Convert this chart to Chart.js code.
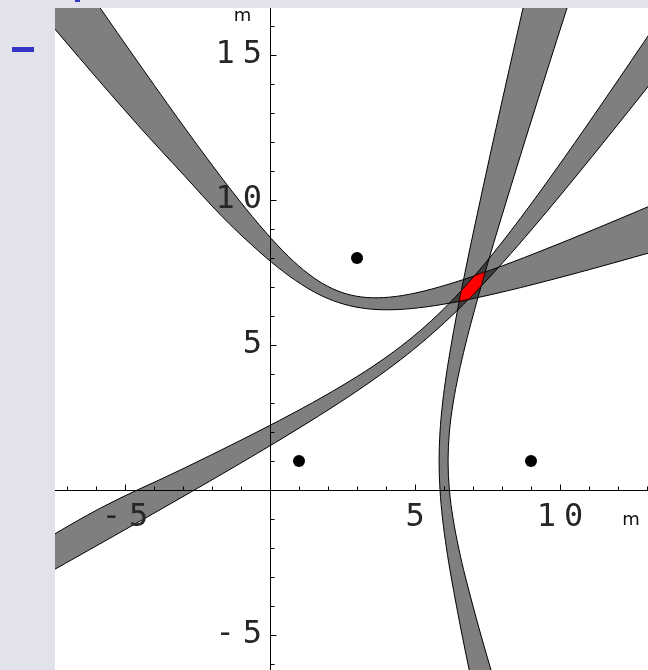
<!DOCTYPE html>
<html>
<head>
<meta charset="utf-8">
<script src="https://cdn.jsdelivr.net/npm/chart.js@4.4.1/dist/chart.umd.min.js"></script>
<style>
  html, body { margin: 0; padding: 0; background: #e2e3ea; overflow: hidden; }
  #wrap { position: relative; width: 648px; height: 670px; }
  #wrap canvas { position: absolute; left: 0; top: 0; }
  .mark { position: absolute; background: #3434c4; }
</style>
</head>
<body>
<div id="wrap">
  <div class="mark" style="left:12px;top:47px;width:22px;height:5px"></div>
  <div class="mark" style="left:75px;top:0;width:5px;height:2px"></div>
  <canvas id="c" width="648" height="670"></canvas>
</div>
<script>
// Visible window of the plane (metres)
const xRange = [-7.414, 13.034];
const yRange = [-6.207, 16.621];
const majorStep = 5;

// Receiver positions
const sensors = [[1, 1], [3, 8], [9, 1]];

// Band between receivers (1,1) and (3,8): outer and inner boundary
const abOuter = [[-12.404, 21.8], [-9.146, 17.95], [-6.588, 14.92], [-4.569, 12.60], [-2.964, 10.85],
  [-1.670, 9.447], [-0.606, 8.430], [0.294, 7.660], [1.086, 7.089], [1.821, 6.680], [2.545, 6.409],
  [3.303, 6.257], [4.144, 6.215], [5.118, 6.282], [6.289, 6.460], [7.729, 6.762], [9.529, 7.205],
  [11.802, 7.819], [14.691, 8.641], [18.377, 9.723]];
const abInner = [[-10.214, 22.976], [-7.443, 18.921], [-5.266, 15.771], [-3.545, 13.329], [-2.173, 11.441],
  [-1.063, 9.990], [-0.145, 8.884], [0.638, 8.053], [1.335, 7.446], [1.991, 7.023], [2.646, 6.760],
  [3.341, 6.638], [4.121, 6.650], [5.034, 6.797], [6.137, 7.089], [7.501, 7.543], [9.210, 8.189],
  [11.372, 9.067], [14.123, 10.231], [17.636, 11.755]];

// Band between receivers (1,1) and (9,1): left and right boundary
const acLeft = [[7.469, -9], [7.037, -7], [6.623, -5], [6.247, -3], [6.084, -2], [5.951, -1], [5.862, 0],
  [5.830, 1], [5.862, 2], [5.951, 3], [6.084, 4], [6.247, 5], [6.428, 6], [6.623, 7], [6.827, 8],
  [7.037, 9], [7.469, 11], [7.911, 13], [8.359, 15], [8.811, 17], [9.266, 19]];
const acRight = [[8.469, -9], [7.858, -7], [7.272, -5], [6.737, -3], [6.505, -2], [6.315, -1], [6.186, 0],
  [6.140, 1], [6.186, 2], [6.315, 3], [6.505, 4], [6.737, 5], [6.996, 6], [7.272, 7], [7.561, 8],
  [7.858, 9], [8.469, 11], [9.093, 13], [9.725, 15], [10.364, 17], [11.006, 19]];

// Band between receivers (3,8) and (9,1): lower and upper boundary
const bcLower = [[-13.010, -5.855], [-8.730, -3.468], [-5.375, -1.580], [-2.736, -0.075], [-0.644, 1.143],
  [1.029, 2.150], [2.390, 3.009], [3.524, 3.774], [4.503, 4.494], [5.388, 5.214], [6.235, 5.978],
  [7.096, 6.835], [8.026, 7.839], [9.083, 9.053], [10.334, 10.553], [11.857, 12.433], [13.748, 14.811],
  [16.127, 17.838]];
const bcUpper = [[-13.793, -4.9], [-9.347, -2.62], [-5.866, -0.634], [-3.131, 0.671], [-0.969, 1.736],
  [0.755, 2.626], [2.150, 3.400], [3.302, 4.104], [4.285, 4.783], [5.161, 5.480], [5.983, 6.238],
  [6.805, 7.106], [7.677, 8.137], [8.654, 9.397], [9.798, 10.964], [11.181, 12.938], [12.890, 15.441],
  [15.031, 18.632], [17.739, 22.711]];

// Region common to all three bands
const overlapZone = [[6.525, 6.510], [6.860, 6.580], [7.282, 7.036], [7.415, 7.515], [7.066, 7.398], [6.598, 6.874]];

const pts = a => a.map(([x, y]) => ({x, y}));
const band = (edgeA, edgeB) => pts(edgeA.concat(edgeB.slice().reverse()));

const bandStyle = {
  showLine: true, fill: 'shape', backgroundColor: 'rgba(0,0,0,0.5)',
  borderColor: '#000', borderWidth: 1, pointRadius: 0, tension: 0.35
};

const labelFor = v => (v % majorStep === 0 && v !== 0) ? String(v) : '';
const tickFont = {family: 'DejaVu Sans Mono', size: 32};
const tickColor = '#262626';
const digitGap = 8;

// Axes sit inside the plot, so they take no room in the layout
const noRoom = s => {
  if (s.isHorizontal()) s.height = 0; else s.width = 0;
  s.paddingLeft = s.paddingRight = s.paddingTop = s.paddingBottom = 0;
};

// White plotting surface; wide digit spacing for the tick numbers
const paper = {
  id: 'paper',
  beforeDraw(chart) {
    const {ctx, chartArea: a} = chart;
    ctx.save();
    ctx.fillStyle = '#ffffff';
    ctx.fillRect(a.left, a.top, a.right - a.left, a.bottom - a.top);
    ctx.restore();
    ctx.letterSpacing = digitGap + 'px';
  }
};

// Inward tick marks on both axes, plus unit labels
const tickMarks = {
  id: 'tickMarks',
  afterDraw(chart) {
    const {ctx, chartArea: a, scales: {x, y}} = chart;
    ctx.letterSpacing = '0px';
    const x0 = Math.round(x.getPixelForValue(0)) + 0.5;
    const y0 = Math.round(y.getPixelForValue(0)) + 0.5;
    ctx.save();
    ctx.strokeStyle = '#000';
    ctx.lineWidth = 1;
    ctx.beginPath();
    x.ticks.forEach(t => {
      if (t.value === 0) return;
      const px = Math.round(x.getPixelForValue(t.value)) + 0.5;
      const len = t.value % majorStep === 0 ? 6 : 4;
      ctx.moveTo(px, y0);
      ctx.lineTo(px, y0 - len);
    });
    y.ticks.forEach(t => {
      if (t.value === 0) return;
      const py = Math.round(y.getPixelForValue(t.value)) + 0.5;
      const len = t.value % majorStep === 0 ? 6 : 4;
      ctx.moveTo(x0, py);
      ctx.lineTo(x0 + len, py);
    });
    ctx.stroke();
    ctx.fillStyle = '#111';
    ctx.font = '18px "DejaVu Sans"';
    ctx.textAlign = 'center';
    ctx.textBaseline = 'middle';
    ctx.fillText('m', x0 - 28, a.top + 8);
    ctx.fillText('m', a.right - 17, y0 + 30);
    ctx.restore();
  }
};

new Chart(document.getElementById('c'), {
  type: 'scatter',
  data: {
    // earlier datasets are painted last, so they sit on top
    datasets: [
      {data: pts(sensors), pointRadius: 6, pointBackgroundColor: '#000', pointBorderWidth: 0, showLine: false},
      {showLine: true, fill: 'shape', backgroundColor: '#ff0000', borderColor: '#300', borderWidth: 0.8,
       pointRadius: 0, tension: 0, data: pts(overlapZone.concat([overlapZone[0]]))},
      {...bandStyle, data: band(abOuter, abInner)},
      {...bandStyle, data: band(acLeft, acRight)},
      {...bandStyle, data: band(bcLower, bcUpper)}
    ]
  },
  options: {
    responsive: false,
    devicePixelRatio: 1,
    animation: false,
    events: [],
    layout: {padding: {left: 55, top: 8, right: 0, bottom: 0}, autoPadding: false},
    plugins: {legend: {display: false}, tooltip: {enabled: false}},
    elements: {line: {capBezierPoints: false}},
    scales: {
      x: {
        type: 'linear', min: xRange[0], max: xRange[1], position: {y: 0},
        afterFit: noRoom,
        grid: {display: false, drawTicks: false},
        border: {display: true, color: '#000', width: 1, z: 1},
        ticks: {stepSize: 1, autoSkip: false, includeBounds: false, maxRotation: 0, padding: 8, z: 1,
                labelOffset: digitGap / 2, color: tickColor, font: tickFont, callback: labelFor}
      },
      y: {
        type: 'linear', min: yRange[0], max: yRange[1], position: {x: 0},
        afterFit: noRoom,
        grid: {display: false, drawTicks: false},
        border: {display: true, color: '#000', width: 1, z: 1},
        ticks: {stepSize: 1, autoSkip: false, includeBounds: false, padding: 0, z: 1,
                color: tickColor, font: tickFont, callback: labelFor}
      }
    }
  },
  plugins: [paper, tickMarks]
});
</script>
</body>
</html>
